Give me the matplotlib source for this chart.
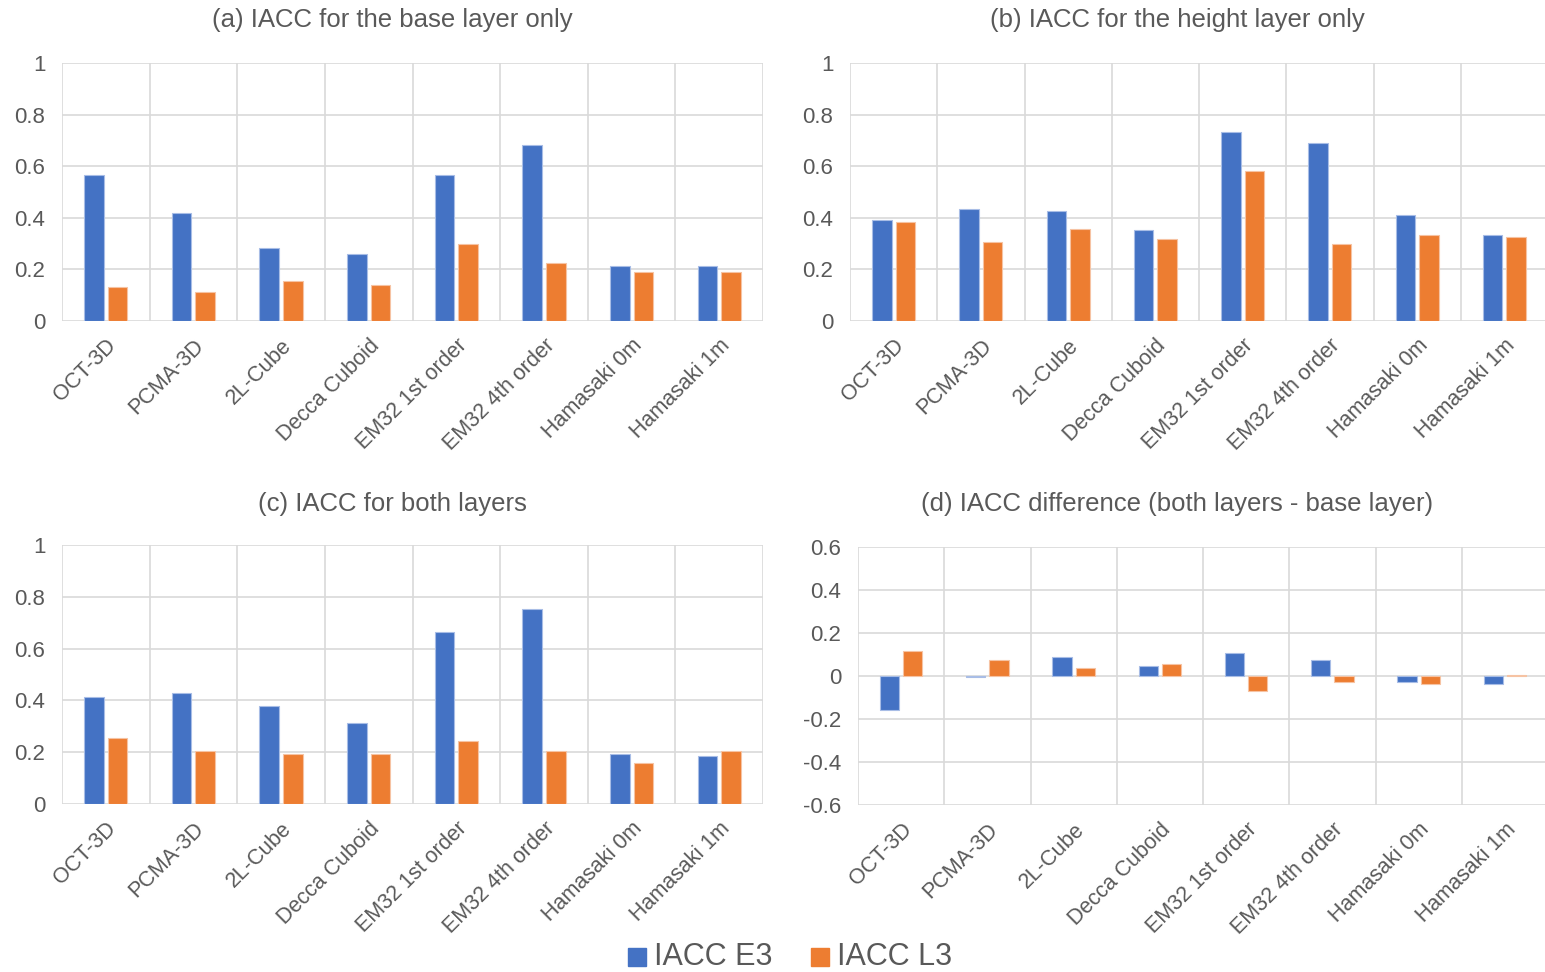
import matplotlib
matplotlib.use("Agg")
import matplotlib.pyplot as plt
import numpy as np
from matplotlib.patches import Rectangle

categories = ["OCT-3D", "PCMA-3D", "2L-Cube", "Decca Cuboid", "EM32 1st order",
              "EM32 4th order", "Hamasaki 0m", "Hamasaki 1m"]

base_e3 = [0.564, 0.418, 0.282, 0.259, 0.564, 0.682, 0.215, 0.215]
base_l3 = [0.131, 0.113, 0.155, 0.138, 0.300, 0.224, 0.191, 0.191]

height_e3 = [0.393, 0.436, 0.427, 0.351, 0.733, 0.691, 0.410, 0.334]
height_l3 = [0.384, 0.308, 0.358, 0.317, 0.580, 0.300, 0.334, 0.325]

both_e3 = [0.412, 0.430, 0.380, 0.312, 0.666, 0.751, 0.194, 0.185]
both_l3 = [0.253, 0.203, 0.194, 0.194, 0.244, 0.203, 0.160, 0.203]

diff_e3 = [-0.158, -0.005, 0.087, 0.045, 0.105, 0.076, -0.026, -0.036]
diff_l3 = [0.116, 0.076, 0.036, 0.056, -0.068, -0.026, -0.036, 0.003]

titles = ["(a) IACC for the base layer only",
          "(b) IACC for the height layer only",
          "(c) IACC for both layers",
          "(d) IACC difference (both layers - base layer)"]
series_names = ["IACC E3", "IACC L3"]

ticks_pos = [0, 0.2, 0.4, 0.6, 0.8, 1]
ticks_pos_labels = ["0", "0.2", "0.4", "0.6", "0.8", "1"]
ticks_diff = [-0.6, -0.4, -0.2, 0, 0.2, 0.4, 0.6]
ticks_diff_labels = ["-0.6", "-0.4", "-0.2", "0", "0.2", "0.4", "0.6"]

BLUE = "#4472C4"
ORANGE = "#ED7D31"
BLUE_EDGE = "#A8BDE6"
ORANGE_EDGE = "#F6C3A3"
GRID = "#D9D9D9"
TXT = "#595959"
FONT = ["Liberation Sans", "DejaVu Sans"]
plt.rcParams["font.family"] = FONT

W, H = 1545, 972
fig = plt.figure(figsize=(W / 100, H / 100), dpi=100)

def px_axes(left, top, right, bottom):
    return fig.add_axes([left / W, (H - bottom) / H, (right - left) / W, (bottom - top) / H])

panels = [
    (px_axes(62, 63, 763, 321), base_e3, base_l3, ticks_pos, ticks_pos_labels, (0, 1), 392, 20),
    (px_axes(850, 63, 1548, 321), height_e3, height_l3, ticks_pos, ticks_pos_labels, (0, 1), 1177, 20),
    (px_axes(62, 545, 763, 804), both_e3, both_l3, ticks_pos, ticks_pos_labels, (0, 1), 392, 504),
    (px_axes(858, 547, 1548, 805), diff_e3, diff_l3, ticks_diff, ticks_diff_labels, (-0.6, 0.6), 1177, 504),
]

x = np.arange(len(categories))
bw = 0.225
off = 0.135
for ax, e3, l3, yt, ytl, ylim, tx, ty in panels:
    ax.bar(x - off, e3, width=bw, color=BLUE, edgecolor=BLUE_EDGE, linewidth=0.8, zorder=3)
    ax.bar(x + off, l3, width=bw, color=ORANGE, edgecolor=ORANGE_EDGE, linewidth=0.8, zorder=3)
    ax.set_xlim(-0.5, len(categories) - 0.5)
    ax.set_ylim(*ylim)
    ax.set_yticks(yt)
    ax.set_yticklabels(ytl)
    for v in yt:
        ax.axhline(v, color=GRID, lw=1.2, zorder=1)
    for b in np.arange(-0.5, len(categories), 1.0):
        ax.axvline(b, color=GRID, lw=1.2, zorder=1)
    for s in ax.spines.values():
        s.set_visible(False)
    ax.set_xticks(x)
    ax.set_xticklabels(categories, rotation=45, ha="right", va="top",
                       rotation_mode="anchor", fontsize=15.5, color=TXT)
    ax.tick_params(axis="x", length=0, pad=10)
    ax.tick_params(axis="y", length=0, pad=12, labelsize=16, labelcolor=TXT)

for (ax, e3, l3, yt, ytl, ylim, tx, ty), t in zip(panels, titles):
    fig.text(tx / W, 1 - ty / H, t, ha="center", va="center", fontsize=18.5, color=TXT)

# legend
fig.patches.append(Rectangle((628 / W, 1 - 966 / H), 18 / W, 18 / H, color=BLUE, transform=fig.transFigure))
fig.text(654 / W, 1 - 957 / H, series_names[0], ha="left", va="center", fontsize=22, color=TXT)
fig.patches.append(Rectangle((811 / W, 1 - 966 / H), 18 / W, 18 / H, color=ORANGE, transform=fig.transFigure))
fig.text(837 / W, 1 - 957 / H, series_names[1], ha="left", va="center", fontsize=22, color=TXT)

fig.savefig("out.png", dpi=100, facecolor="white")
